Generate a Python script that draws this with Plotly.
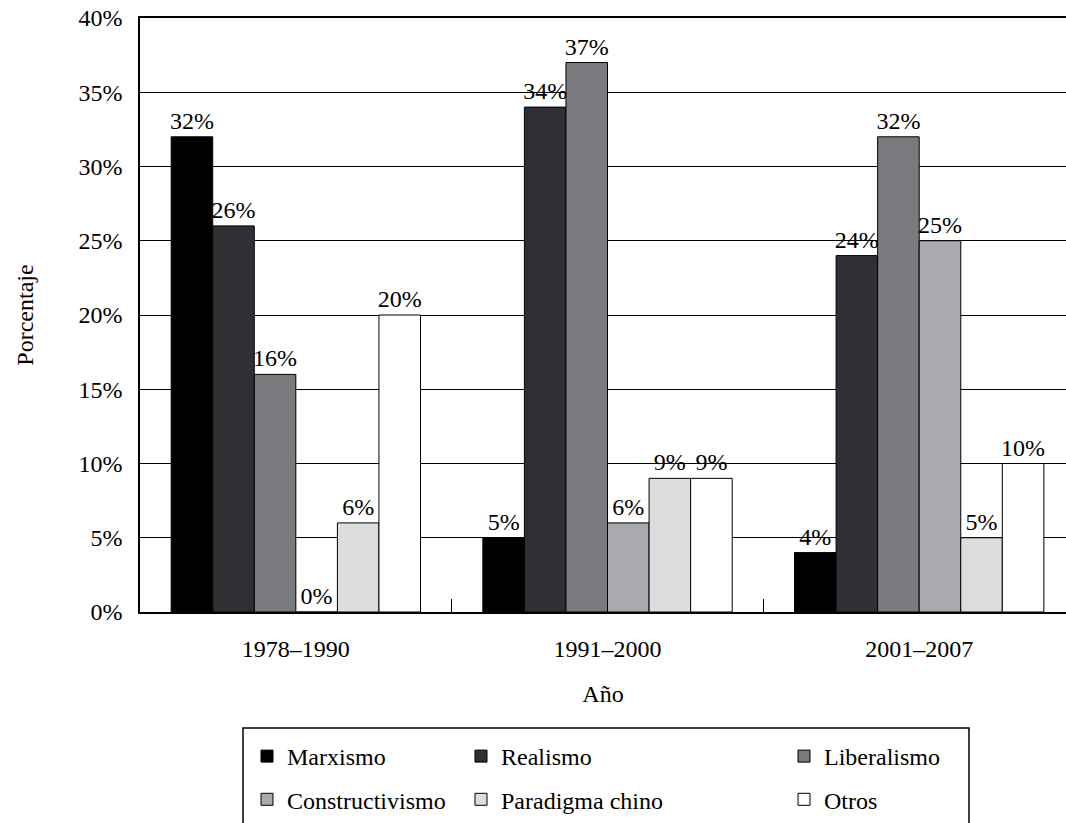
import plotly.graph_objects as go

categories = ["1978–1990", "1991–2000", "2001–2007"]
series_names = ["Marxismo", "Realismo", "Liberalismo", "Constructivismo", "Paradigma chino", "Otros"]
marxismo = [32, 5, 4]
realismo = [26, 34, 24]
liberalismo = [16, 37, 32]
constructivismo = [0, 6, 25]
paradigma_chino = [6, 9, 5]
otros = [20, 9, 10]
y_ticks = [0, 5, 10, 15, 20, 25, 30, 35, 40]

values = [marxismo, realismo, liberalismo, constructivismo, paradigma_chino, otros]
colors = ["#000000", "#2e3033", "#7a7b7f", "#a8aaad", "#dcdddf", "#ffffff"]
legend_ids = ["legend", "legend2", "legend3", "legend", "legend2", "legend3"]

FONT = "Times New Roman, Liberation Serif, Tinos, serif"

fig = go.Figure()
for name, vals, col, lg in zip(series_names, values, colors, legend_ids):
    fig.add_trace(go.Bar(
        name=name, x=categories, y=vals,
        text=[f"{v}%" for v in vals], texttemplate="%{text}",
        marker=dict(color=col, line=dict(color="#000000", width=1)),
        textposition="outside", constraintext="none",
        textfont=dict(family=FONT, size=24, color="#000000"),
        cliponaxis=False, legend=lg, legendgroup=name,
    ))

W, H = 1066, 823
L, T, R = 140, 18, 0
B = H - 612
pw = W - L - R
ph = H - T - B

def px_x(p):
    return (p - L) / pw

def px_y(p):
    return (H - B - p) / ph

legend_common = dict(
    orientation="v", xanchor="left", yanchor="top",
    font=dict(family=FONT, size=24, color="#000000"),
    bgcolor="rgba(0,0,0,0)", borderwidth=0, tracegroupgap=9,
    itemclick=False, itemdoubleclick=False,
)

fig.update_layout(
    width=W, height=H,
    margin=dict(l=L, r=R, t=T, b=B, pad=0, autoexpand=False),
    paper_bgcolor="#ffffff", plot_bgcolor="#ffffff",
    font=dict(family=FONT, size=24, color="#000000"),
    barmode="group", bargap=0.2, bargroupgap=0,
    showlegend=True, hovermode=False,
    legend=dict(x=px_x(247), y=px_y(734), **legend_common),
    legend2=dict(x=px_x(461), y=px_y(734), **legend_common),
    legend3=dict(x=px_x(784), y=px_y(734), **legend_common),
    xaxis=dict(
        range=[-0.5, 2.471], showgrid=False, zeroline=False, automargin=False,
        showline=True, linecolor="#000000", linewidth=1.5, mirror=True,
        ticks="inside", tickson="boundaries", ticklen=13, tickcolor="#000000", tickwidth=1.2,
        tickfont=dict(family=FONT, size=24, color="#000000"),
        title=dict(text="Año", font=dict(family=FONT, size=24, color="#000000"), standoff=25),
        ticklabelstandoff=14,
        fixedrange=True,
    ),
    yaxis=dict(
        range=[0, 40], tickvals=y_ticks, ticktext=[f"{v}%" for v in y_ticks],
        showgrid=True, gridcolor="#000000", gridwidth=1.2, zeroline=False, automargin=False,
        showline=True, linecolor="#000000", linewidth=1.5,
        ticks="", ticklabelstandoff=11, ticklabeloverflow="allow",
        tickfont=dict(family=FONT, size=24, color="#000000"),
        title=dict(text="Porcentaje", font=dict(family=FONT, size=24, color="#000000"), standoff=38),
        fixedrange=True,
    ),
    shapes=[dict(
        type="rect", xref="paper", yref="paper",
        x0=px_x(243), x1=px_x(969), y0=px_y(728), y1=px_y(840),
        line=dict(color="#000000", width=1.5), fillcolor="rgba(0,0,0,0)", layer="above",
    )],
)

fig.write_html(
    "out.html",
    config={"displayModeBar": False, "staticPlot": False},
    post_script="document.body.style.margin='0';document.body.style.overflow='hidden';",
)
